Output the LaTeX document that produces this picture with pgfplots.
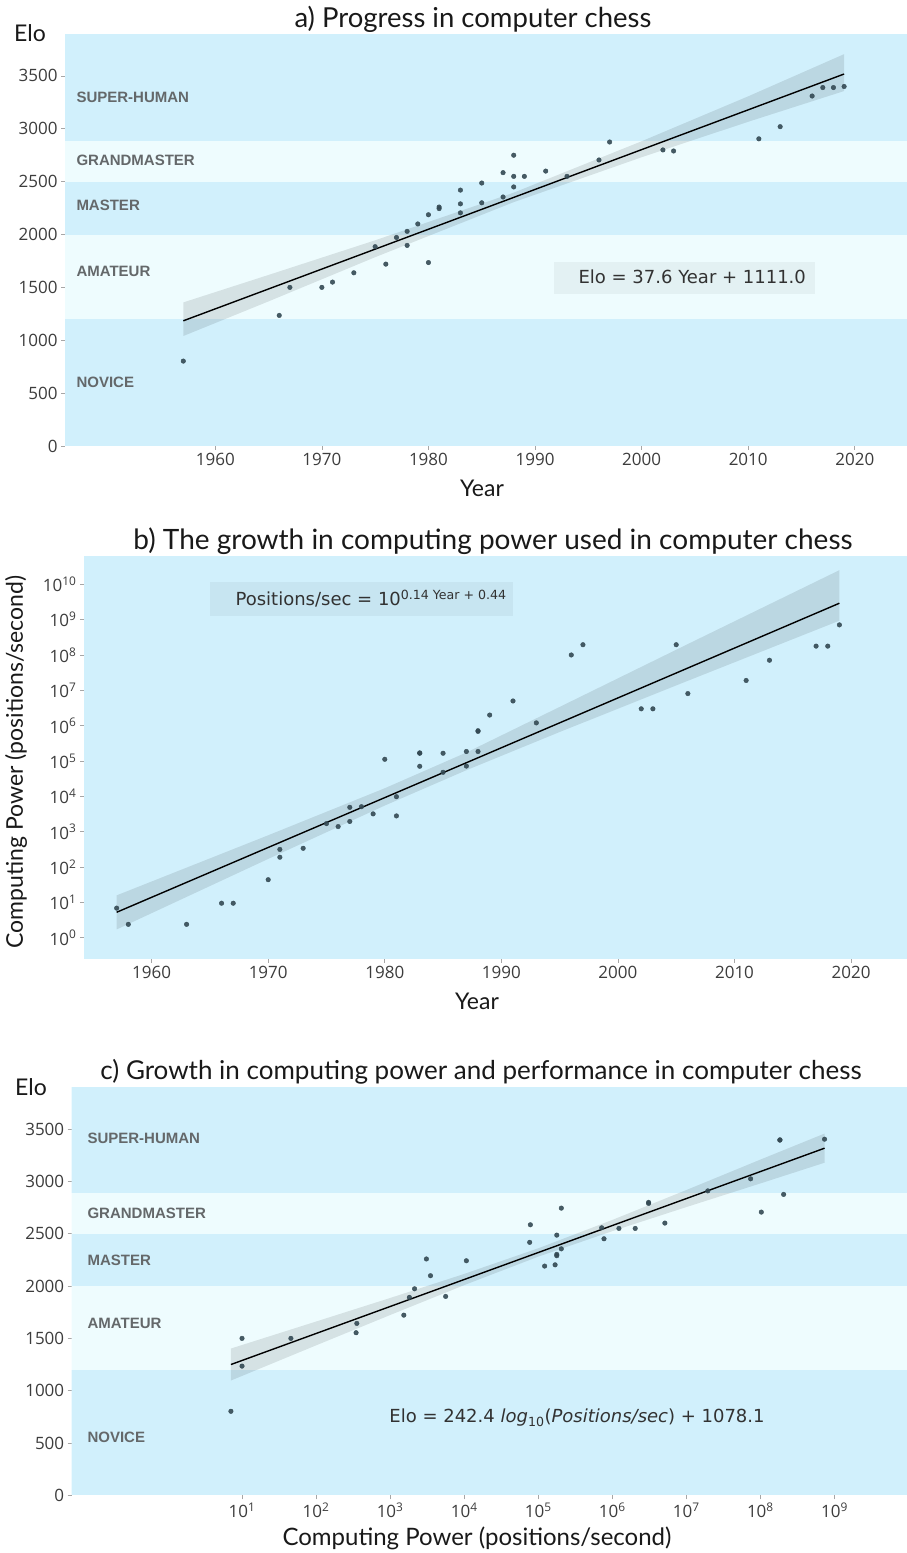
\documentclass[border=0pt]{standalone}
\usepackage{fontspec}
\setmainfont{Lato}
\newfontfamily\tickfont{Open Sans}
\newfontfamily\bandfont{Liberation Sans}
\newfontfamily\annfont{DejaVu Sans}
\usepackage{pgfplots}
\pgfplotsset{compat=1.18}
\definecolor{bandblue}{RGB}{209,240,252}
\definecolor{bandpale}{RGB}{238,252,254}
\definecolor{ptcol}{RGB}{52,74,84}
\definecolor{lblgray}{RGB}{100,104,106}
\definecolor{tickgray}{RGB}{60,60,60}
\definecolor{anngray}{RGB}{50,50,50}
\pgfplotsset{
  chess/.style={
    scale only axis, anchor=south west,
    axis line style={draw=none},
    tick align=outside, major tick length=4pt,
    tick style={gray!70, line width=0.6pt},
    xtick pos=bottom, ytick pos=left,
    tick label style={font=\tickfont\fontsize{17}{17}\selectfont, text=tickgray},
    /pgf/number format/assume math mode=true,
    /pgf/number format/1000 sep={},
    xminorticks=false, yminorticks=false,
  },
  pts/.style={only marks, mark=*, mark size=2.3pt, color=ptcol, mark options={fill=ptcol, draw=ptcol, fill opacity=0.9, draw opacity=0.9}},
  ci/.style={draw=none, fill=black, fill opacity=0.1},
  reg/.style={black, line width=1.4pt},
}
\tikzset{
  bandlbl/.style={anchor=west, text=lblgray, font=\bandfont\bfseries\fontsize{15}{15}\selectfont, inner sep=0pt},
  ttl/.style={text=black!90},
  alab/.style={font=\fontsize{23}{24}\selectfont, text=black!90},
  ann/.style={font=\annfont\fontsize{18}{18}\selectfont, text=anngray},
}
\begin{document}
\begin{tikzpicture}
\path[use as bounding box] (0pt,0pt) rectangle (907pt,1553pt);

% ---------------- Panel a ----------------
\begin{axis}[chess, at={(65pt,1107pt)}, width=842pt, height=411.3pt,
  xmin=1945.9, xmax=2024.9, ymin=0, ymax=3890,
  xtick={1960,1970,...,2020}, ytick={0,500,...,3500}]
\addplot[draw=none, fill=bandblue] coordinates {(1900,0) (2100,0) (2100,1200) (1900,1200)};
\addplot[draw=none, fill=bandpale] coordinates {(1900,1200) (2100,1200) (2100,2000) (1900,2000)};
\addplot[draw=none, fill=bandblue] coordinates {(1900,2000) (2100,2000) (2100,2500) (1900,2500)};
\addplot[draw=none, fill=bandpale] coordinates {(1900,2500) (2100,2500) (2100,2885) (1900,2885)};
\addplot[draw=none, fill=bandblue] coordinates {(1900,2885) (2100,2885) (2100,4000) (1900,4000)};
\node[bandlbl] at (axis cs:1946.96,3299) {SUPER-HUMAN};
\node[bandlbl] at (axis cs:1946.96,2703) {GRANDMASTER};
\node[bandlbl] at (axis cs:1946.96,2278) {MASTER};
\node[bandlbl] at (axis cs:1946.96,1654) {AMATEUR};
\node[bandlbl] at (axis cs:1946.96,605) {NOVICE};
\fill[black, fill opacity=0.045] (axis cs:1991.8,1437) rectangle (axis cs:2016.3,1739);
\node[ann] at (axis cs:2004.75,1597) {Elo = 37.6 Year + 1111.0};
\addplot[ci] coordinates {(1957,1358) (1965,1617.8) (1975,1945.3) (1988,2396) (2000,2882.1) (2010,3307) (2019,3706)
  (2019,3357) (2010,3066.3) (2000,2730.6) (1988,2306) (1975,1785.6) (1965,1367.6) (1957,1040)};
\addplot[reg] coordinates {(1957,1184) (2019,3518)};
\addplot[pts] coordinates {
(1957,803) (1966,1235) (1967,1500) (1970,1500) (1971,1550) (1973,1638) (1975,1885) (1976,1720)
(1977,1972) (1978,2030) (1978,1897) (1979,2100) (1980,2187) (1980,1735) (1981,2260) (1981,2245)
(1983,2420) (1983,2290) (1983,2205) (1985,2487) (1985,2300) (1987,2585) (1987,2355) (1988,2750)
(1988,2550) (1988,2450) (1989,2550) (1991,2600) (1993,2550) (1996,2705) (1997,2875) (2002,2800)
(2003,2790) (2011,2905) (2013,3020) (2016,3310) (2017,3390) (2018,3390) (2019,3400)};
\end{axis}
\node[ttl, font=\fontsize{27.5}{28}\selectfont] at (473pt,1534pt) {a) Progress in computer chess};
\node[alab] at (30pt,1520pt) {Elo};
\node[alab] at (482pt,1065pt) {Year};

% ---------------- Panel b ----------------
\begin{axis}[chess, at={(84pt,594pt)}, width=823pt, height=402.3pt,
  xmin=1954.2, xmax=2024.8, ymode=log, ymin=0.2512, ymax=6.03e10,
  xtick={1960,1970,...,2020},
  ytick={1,10,100,1000,1e4,1e5,1e6,1e7,1e8,1e9,1e10},
  yticklabels={10\textsuperscript{0},10\textsuperscript{1},10\textsuperscript{2},10\textsuperscript{3},10\textsuperscript{4},10\textsuperscript{5},10\textsuperscript{6},10\textsuperscript{7},10\textsuperscript{8},10\textsuperscript{9},10\textsuperscript{10}}]
\addplot[draw=none, fill=bandblue] coordinates {(1900,0.01) (2100,0.01) (2100,1e12) (1900,1e12)};
\fill[black, fill opacity=0.045] (axis cs:1965.0,1.29e9) rectangle (axis cs:1991.0,1.15e10);
\node[ann, anchor=west] at (axis cs:1966.9,4.0e9) {Positions/sec = 10\textsuperscript{0.14 Year + 0.44}};
\addplot[ci] coordinates {(1957,15.85) (1970,794) (1980,1.70e4) (1987,1.74e5) (1995,3.39e6) (2006,2.04e8) (2019,2.51e10)
  (2019,9.33e8) (2006,1.86e7) (1995,6.61e5) (1987,5.50e4) (1980,5.50e3) (1970,170) (1957,1.72)};
\addplot[reg] coordinates {(1957,5.27) (2019,2.91e9)};
\addplot[pts] coordinates {
(1957,6.9) (1958,2.4) (1963,2.4) (1966,9.5) (1967,9.5) (1970,44) (1971,316) (1971,190) (1973,340)
(1975,1700) (1976,1400) (1977,4900) (1977,1950) (1978,5100) (1979,3200) (1980,1.12e5) (1981,9800) (1981,2800)
(1983,1.66e5) (1983,1.70e5) (1983,7.1e4) (1985,1.66e5) (1985,4.8e4) (1987,1.86e5) (1987,7.2e4) (1988,1.86e5)
(1988,7.2e5) (1988,6.9e5) (1989,2.0e6) (1991,5.0e6) (1993,1.2e6) (1996,1.0e8) (1997,1.95e8) (2002,3.0e6)
(2003,3.0e6) (2005,1.95e8) (2006,8.1e6) (2011,1.9e7) (2013,7.1e7) (2017,1.78e8) (2018,1.78e8) (2019,7.1e8)};
\end{axis}
\node[ttl, font=\fontsize{28}{29}\selectfont] at (493pt,1012pt) {b) The growth in computing power used in computer chess};
\node[alab, rotate=90] at (16pt,791pt) {Computing Power (positions/second)};
\node[alab] at (477pt,552pt) {Year};

% ---------------- Panel c ----------------
\begin{axis}[chess, at={(71.7pt,57.7pt)}, width=835.3pt, height=408pt,
  xmode=log, xmin=0.0501, xmax=9.55e9, ymin=0, ymax=3900,
  xtick={10,100,1000,1e4,1e5,1e6,1e7,1e8,1e9},
  xticklabels={10\textsuperscript{1},10\textsuperscript{2},10\textsuperscript{3},10\textsuperscript{4},10\textsuperscript{5},10\textsuperscript{6},10\textsuperscript{7},10\textsuperscript{8},10\textsuperscript{9}},
  ytick={0,500,...,3500}]
\addplot[draw=none, fill=bandblue] coordinates {(1e-3,0) (1e11,0) (1e11,1200) (1e-3,1200)};
\addplot[draw=none, fill=bandpale] coordinates {(1e-3,1200) (1e11,1200) (1e11,2000) (1e-3,2000)};
\addplot[draw=none, fill=bandblue] coordinates {(1e-3,2000) (1e11,2000) (1e11,2500) (1e-3,2500)};
\addplot[draw=none, fill=bandpale] coordinates {(1e-3,2500) (1e11,2500) (1e11,2885) (1e-3,2885)};
\addplot[draw=none, fill=bandblue] coordinates {(1e-3,2885) (1e11,2885) (1e11,4000) (1e-3,4000)};
\node[bandlbl] at (axis cs:0.0815,3414) {SUPER-HUMAN};
\node[bandlbl] at (axis cs:0.0815,2697) {GRANDMASTER};
\node[bandlbl] at (axis cs:0.0815,2248) {MASTER};
\node[bandlbl] at (axis cs:0.0815,1646) {AMATEUR};
\node[bandlbl] at (axis cs:0.0815,557) {NOVICE};
\node[ann] at (axis cs:3.34e5,739) {Elo = 242.4 \textit{log}\textsubscript{10}(\textit{Positions/sec}) + 1078.1};
\addplot[ci] coordinates {(7.08,1403) (100,1661) (1000,1886) (1e4,2116) (1e5,2361) (1e6,2632) (1e7,2918) (1e8,3209) (7.36e8,3458)
  (7.36e8,3179) (1e8,2981) (1e7,2755) (1e6,2525) (1e5,2281) (1e4,2009) (1000,1723) (100,1433) (7.08,1097)};
\addplot[reg] coordinates {(7.08,1250) (7.36e8,3318)};
\addplot[pts] coordinates {
(7.08,803) (10,1500) (10,1235) (45.7,1500) (355,1643) (347,1554) (1531,1722) (1820,1892) (2138,1974)
(5623,1901) (3090,2259) (3508,2099) (1.07e4,2242) (7.67e4,2418) (7.83e4,2586) (1.22e5,2191) (1.69e5,2203)
(1.78e5,2303) (1.78e5,2290) (1.78e5,2487) (2.05e5,2356) (2.05e5,2745) (7.19e5,2557) (7.73e5,2452)
(1.23e6,2551) (2.04e6,2551) (3.09e6,2800) (3.09e6,2790) (5.13e6,2602) (1.95e7,2910) (7.38e7,3025)
(1.03e8,2707) (1.83e8,3395) (1.84e8,3398) (2.06e8,2876) (7.35e8,3404)};
\end{axis}
\node[ttl, font=\fontsize{26}{27}\selectfont] at (481pt,481pt) {c) Growth in computing power and performance in computer chess};
\node[alab] at (31pt,466pt) {Elo};
\node[alab, font=\fontsize{24}{25}\selectfont] at (477pt,15pt) {Computing Power (positions/second)};
\end{tikzpicture}
\end{document}
